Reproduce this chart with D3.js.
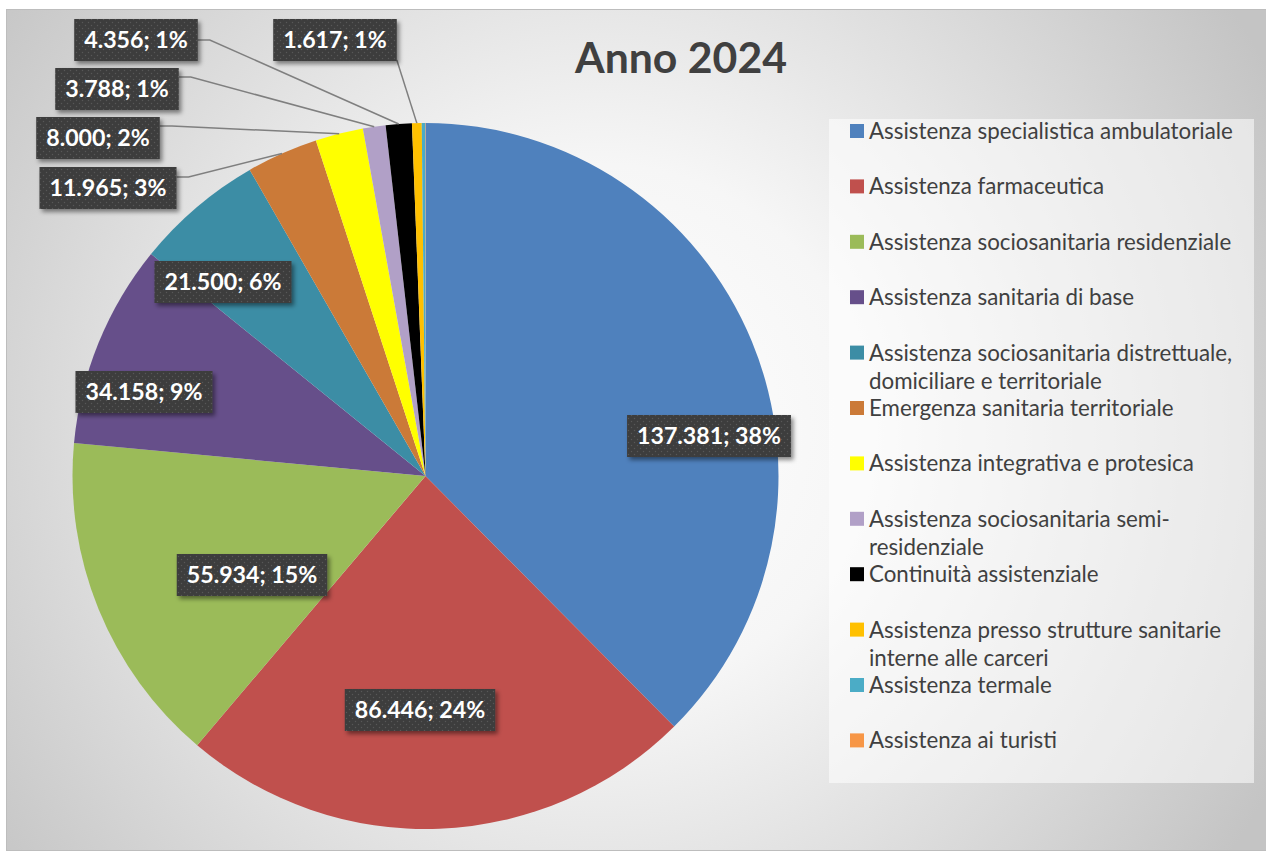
<!DOCTYPE html>
<html>
<head>
<meta charset="utf-8">
<script src="https://cdn.jsdelivr.net/npm/d3@7"></script>
<style>
  html, body { margin: 0; padding: 0; background: #ffffff; }
  svg { display: block; }
  text { font-family: Lato, "Open Sans", "DejaVu Sans", sans-serif; }
</style>
</head>
<body>
<svg id="chart" width="1266" height="854"></svg>
<script>
// ---- data ----
const title = "Anno 2024";
const categories = [
  "Assistenza specialistica ambulatoriale",
  "Assistenza farmaceutica",
  "Assistenza sociosanitaria residenziale",
  "Assistenza sanitaria di base",
  "Assistenza sociosanitaria distrettuale, domiciliare e territoriale",
  "Emergenza sanitaria territoriale",
  "Assistenza integrativa e protesica",
  "Assistenza sociosanitaria semi-residenziale",
  "Continuità assistenziale",
  "Assistenza presso strutture sanitarie interne alle carceri",
  "Assistenza termale",
  "Assistenza ai turisti"
];
const values = [137381, 86446, 55934, 34158, 21500, 11965, 8000, 3788, 4356, 1617, 560, 60];
const percentLabels = ["38%", "24%", "15%", "9%", "6%", "3%", "2%", "1%", "1%", "1%", null, null];
const colors = ["#4f81bd", "#c0504d", "#9bbb59", "#664f8a", "#3c8da5", "#cb7a38",
                "#ffff00", "#b1a0c7", "#000000", "#ffc000", "#4bacc6", "#f79646"];

// ---- layout (positions of the label boxes, not data) ----
const labelLayout = [
  {cx: 709, cy: 436},
  {cx: 420, cy: 710},
  {cx: 252, cy: 575},
  {cx: 144, cy: 392},
  {cx: 223, cy: 282},
  {cx: 108, cy: 188, ax: "right", ay: -11, elbow: true},
  {cx: 98,  cy: 138, ax: "right", ay: -12, elbow: true},
  {cx: 117, cy: 89,  ax: "right", ay: -12, elbow: true},
  {cx: 136, cy: 40,  ax: "right", ay: 0,   elbow: true},
  {cx: 335, cy: 40,  ax: "right", ay: 20,  elbow: false},
  null, null
];

const W = 1266, H = 854;
const svg = d3.select("#chart");
const defs = svg.append("defs");

// background gradient
const bg = defs.append("radialGradient").attr("id", "bgGrad")
  .attr("gradientUnits", "userSpaceOnUse")
  .attr("cx", 600).attr("cy", 430).attr("r", 760);
bg.append("stop").attr("offset", "0").attr("stop-color", "#ffffff");
bg.append("stop").attr("offset", "0.35").attr("stop-color", "#f6f6f6");
bg.append("stop").attr("offset", "1").attr("stop-color", "#c4c4c4");

// dotted pattern for labels
const pat = defs.append("pattern").attr("id", "dots")
  .attr("patternUnits", "userSpaceOnUse").attr("width", 6).attr("height", 6);
pat.append("rect").attr("width", 6).attr("height", 6).attr("fill", "#3d3d3d");
pat.append("circle").attr("cx", 1.5).attr("cy", 1.5).attr("r", 0.75).attr("fill", "#585858");
pat.append("circle").attr("cx", 4.5).attr("cy", 4.5).attr("r", 0.75).attr("fill", "#585858");

const sh = defs.append("filter").attr("id", "shadow")
  .attr("x", "-20%").attr("y", "-30%").attr("width", "150%").attr("height", "180%");
sh.append("feDropShadow").attr("dx", 2.5).attr("dy", 3).attr("stdDeviation", 2)
  .attr("flood-color", "#000").attr("flood-opacity", 0.45);

// chart area
svg.append("rect").attr("x", 6.5).attr("y", 9.5).attr("width", W - 6).attr("height", 841)
  .attr("fill", "url(#bgGrad)").attr("stroke", "#bdbdbd").attr("stroke-width", 1);

// helper to measure text width
function measure(str, size, weight) {
  const t = svg.append("text").attr("font-size", size).attr("font-weight", weight).text(str);
  const w = t.node().getComputedTextLength();
  t.remove();
  return w;
}

// title
const titleSize = 100 * 212 / measure(title, 100, "bold");
svg.append("text")
  .attr("x", 681).attr("y", 73)
  .attr("text-anchor", "middle")
  .attr("font-size", titleSize).attr("font-weight", "bold")
  .attr("fill", "#404040")
  .text(title);

// pie
const cx = 425.5, cy = 476, R = 353;
const pie = d3.pie().sort(null).value(d => d)(values);
const arc = d3.arc().innerRadius(0).outerRadius(R);
const g = svg.append("g").attr("transform", `translate(${cx},${cy})`);
g.selectAll("path.slice").data(pie).join("path")
  .attr("class", "slice")
  .attr("d", arc)
  .attr("fill", (d, i) => colors[i]);

// labels
const fmt = d3.formatLocale({decimal: ",", thousands: ".", grouping: [3]}).format(",d");
const labelSize = 100 * 144 / measure("137.381; 38%", 100, "bold");
const boxH = 42;
const labelG = svg.append("g");
pie.forEach((d, i) => {
  const L = labelLayout[i];
  if (!L || percentLabels[i] == null) return;
  const str = fmt(values[i]) + "; " + percentLabels[i];
  const tw = measure(str, labelSize, "bold");
  const bw = tw + 20;
  const bx = L.cx - bw / 2, by = L.cy - boxH / 2;
  if (L.ax) {
    const mid = (d.startAngle + d.endAngle) / 2;
    const px = cx + R * Math.sin(mid), py = cy - R * Math.cos(mid);
    const sx = bx + bw, sy = L.cy + L.ay;
    const pts = L.elbow ? [[sx, sy], [sx + 12, sy], [px, py]] : [[sx, sy], [px, py]];
    labelG.append("path")
      .attr("d", d3.line()(pts))
      .attr("fill", "none").attr("stroke", "#7f7f7f").attr("stroke-width", 1.5);
  }
  labelG.append("rect")
    .attr("x", bx).attr("y", by).attr("width", bw).attr("height", boxH)
    .attr("fill", "url(#dots)").attr("filter", "url(#shadow)");
  labelG.append("text")
    .attr("x", L.cx).attr("y", L.cy + labelSize * 0.35)
    .attr("text-anchor", "middle")
    .attr("font-size", labelSize).attr("font-weight", "bold")
    .attr("fill", "#ffffff")
    .text(str);
});

// legend
const legX = 829, legY = 119, legW = 425, legH = 664;
svg.append("rect").attr("x", legX).attr("y", legY).attr("width", legW).attr("height", legH)
  .attr("fill", "#ffffff").attr("fill-opacity", 0.55);
const legSize = 100 * 364 / measure(categories[0], 100, "normal");
const maxW = 372;
function wrap(str) {
  const tokens = str.match(/[^\s-]+-?/g);
  const lines = [];
  let cur = "";
  tokens.forEach(tok => {
    const cand = cur === "" ? tok : (cur.endsWith("-") ? cur + tok : cur + " " + tok);
    if (cur !== "" && measure(cand, legSize, "normal") > maxW) {
      lines.push(cur); cur = tok;
    } else cur = cand;
  });
  lines.push(cur);
  return lines;
}
const rowStep = 55.4, firstRow = 131;
const legG = svg.append("g");
categories.forEach((name, i) => {
  const yc = firstRow + i * rowStep;
  legG.append("rect").attr("x", 850).attr("y", yc - 7).attr("width", 14).attr("height", 14)
    .attr("fill", colors[i]);
  const t = legG.append("text").attr("x", 869).attr("y", yc + legSize * 0.36)
    .attr("font-size", legSize).attr("fill", "#404040");
  wrap(name).forEach((ln, k) => {
    t.append("tspan").attr("x", 869).attr("dy", k === 0 ? 0 : 28.5).text(ln);
  });
});
</script>
</body>
</html>
